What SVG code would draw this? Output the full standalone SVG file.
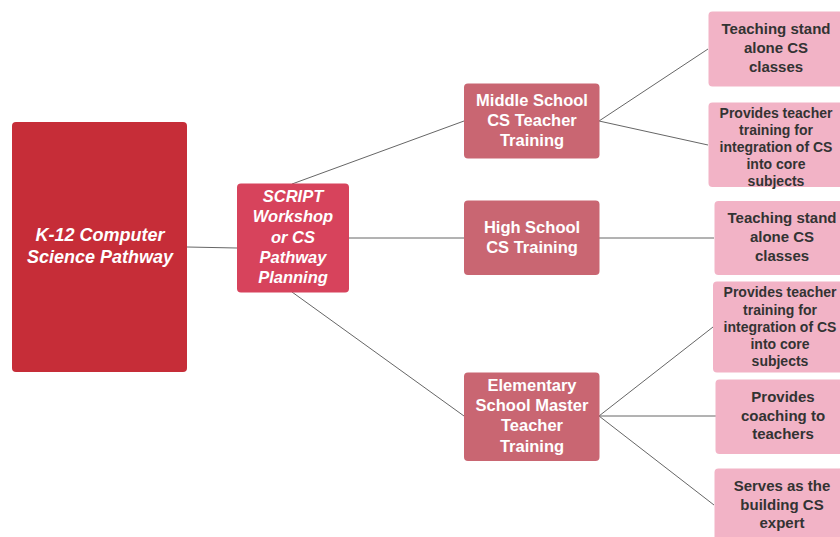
<svg xmlns="http://www.w3.org/2000/svg" width="840" height="537" viewBox="0 0 840 537">
<style>
text{font-family:"Liberation Sans",Arial,sans-serif;font-weight:bold;text-anchor:middle}
.w{fill:#ffffff}
.it{font-style:italic}
.d{fill:#333333}
.edge{stroke:#666666;stroke-width:1;fill:none}
.mid{fill:#C96672}
.leaf{fill:#F2B3C6}
</style>
<rect width="840" height="537" fill="#ffffff"/>
<g id="connectors">
<line class="edge" x1="187" y1="247" x2="237" y2="248"/>
<line class="edge" x1="292" y1="184" x2="464" y2="121"/>
<line class="edge" x1="349" y1="238" x2="464" y2="238"/>
<line class="edge" x1="292" y1="292" x2="464" y2="416"/>
<line class="edge" x1="599" y1="121" x2="708" y2="49"/>
<line class="edge" x1="599" y1="121" x2="708" y2="145"/>
<line class="edge" x1="599" y1="238" x2="714" y2="238"/>
<line class="edge" x1="599" y1="416" x2="713" y2="327"/>
<line class="edge" x1="599" y1="416" x2="716" y2="416"/>
<line class="edge" x1="599" y1="416" x2="714" y2="505"/>
</g>
<g id="k12">
<rect x="12" y="122" width="175" height="250" rx="4" fill="#C62D38"/>
<text class="w it" font-size="18" x="100" y="241">K-12 Computer</text>
<text class="w it" font-size="18" x="100" y="263">Science Pathway</text>
</g>
<g id="script">
<rect x="237" y="183.5" width="112" height="109" rx="4" fill="#D7435C"/>
<text class="w it" font-size="16.5" x="293" y="202">SCRIPT</text>
<text class="w it" font-size="16.5" x="293" y="222">Workshop</text>
<text class="w it" font-size="16.5" x="293" y="243">or CS</text>
<text class="w it" font-size="16.5" x="293" y="263">Pathway</text>
<text class="w it" font-size="16.5" x="293" y="283">Planning</text>
</g>
<g id="middle">
<rect class="mid" x="464" y="83.5" width="135.5" height="75" rx="4"/>
<text class="w" font-size="16.5" x="532" y="106">Middle School</text>
<text class="w" font-size="16.5" x="532" y="126">CS Teacher</text>
<text class="w" font-size="16.5" x="532" y="146">Training</text>
</g>
<g id="high">
<rect class="mid" x="464" y="200.5" width="135.5" height="74.5" rx="4"/>
<text class="w" font-size="16.5" x="532" y="233">High School</text>
<text class="w" font-size="16.5" x="532" y="253">CS Training</text>
</g>
<g id="elementary">
<rect class="mid" x="464" y="372.5" width="135.5" height="88.5" rx="4"/>
<text class="w" font-size="16.5" x="532" y="391">Elementary</text>
<text class="w" font-size="16.5" x="532" y="411">School Master</text>
<text class="w" font-size="16.5" x="532" y="431">Teacher</text>
<text class="w" font-size="16.5" x="532" y="452">Training</text>
</g>
<g id="leaf1">
<rect class="leaf" x="708.5" y="11.5" width="140" height="75" rx="4"/>
<text class="d" font-size="15" x="776" y="34">Teaching stand</text>
<text class="d" font-size="15" x="776" y="53">alone CS</text>
<text class="d" font-size="15" x="776" y="72">classes</text>
</g>
<g id="leaf2">
<rect class="leaf" x="708.5" y="102.5" width="140" height="84.5" rx="4"/>
<text class="d" font-size="14" x="776" y="118">Provides teacher</text>
<text class="d" font-size="14" x="776" y="135">training for</text>
<text class="d" font-size="14" x="776" y="152">integration of CS</text>
<text class="d" font-size="14" x="776" y="169">into core</text>
<text class="d" font-size="14" x="776" y="186">subjects</text>
</g>
<g id="leaf3">
<rect class="leaf" x="714.5" y="201" width="140" height="74" rx="4"/>
<text class="d" font-size="15" x="782" y="223">Teaching stand</text>
<text class="d" font-size="15" x="782" y="242">alone CS</text>
<text class="d" font-size="15" x="782" y="261">classes</text>
</g>
<g id="leaf4">
<rect class="leaf" x="713" y="281.5" width="140" height="91" rx="4"/>
<text class="d" font-size="14" x="780" y="297">Provides teacher</text>
<text class="d" font-size="14" x="780" y="315">training for</text>
<text class="d" font-size="14" x="780" y="332">integration of CS</text>
<text class="d" font-size="14" x="780" y="349">into core</text>
<text class="d" font-size="14" x="780" y="366">subjects</text>
</g>
<g id="leaf5">
<rect class="leaf" x="715.5" y="379.5" width="140" height="74.5" rx="4"/>
<text class="d" font-size="15" x="783" y="402">Provides</text>
<text class="d" font-size="15" x="783" y="421">coaching to</text>
<text class="d" font-size="15" x="783" y="439">teachers</text>
</g>
<g id="leaf6">
<rect class="leaf" x="714.5" y="468.5" width="140" height="80" rx="4"/>
<text class="d" font-size="15" x="782" y="491">Serves as the</text>
<text class="d" font-size="15" x="782" y="510">building CS</text>
<text class="d" font-size="15" x="782" y="528">expert</text>
</g>
</svg>
